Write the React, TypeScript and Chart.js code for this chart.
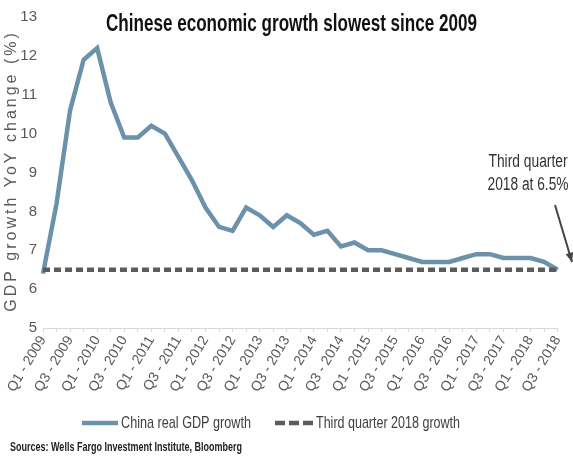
import React, { useEffect, useRef } from "react";
import { Chart, registerables } from "chart.js";

Chart.register(...registerables);

const quarters: string[] = [
  "Q1 - 2009", "Q2 - 2009", "Q3 - 2009", "Q4 - 2009",
  "Q1 - 2010", "Q2 - 2010", "Q3 - 2010", "Q4 - 2010",
  "Q1 - 2011", "Q2 - 2011", "Q3 - 2011", "Q4 - 2011",
  "Q1 - 2012", "Q2 - 2012", "Q3 - 2012", "Q4 - 2012",
  "Q1 - 2013", "Q2 - 2013", "Q3 - 2013", "Q4 - 2013",
  "Q1 - 2014", "Q2 - 2014", "Q3 - 2014", "Q4 - 2014",
  "Q1 - 2015", "Q2 - 2015", "Q3 - 2015", "Q4 - 2015",
  "Q1 - 2016", "Q2 - 2016", "Q3 - 2016", "Q4 - 2016",
  "Q1 - 2017", "Q2 - 2017", "Q3 - 2017", "Q4 - 2017",
  "Q1 - 2018", "Q2 - 2018", "Q3 - 2018",
];

const gdpGrowth: number[] = [
  6.4, 8.2, 10.6, 11.9,
  12.2, 10.8, 9.9, 9.9,
  10.2, 10.0, 9.4, 8.8,
  8.1, 7.6, 7.5, 8.1,
  7.9, 7.6, 7.9, 7.7,
  7.4, 7.5, 7.1, 7.2,
  7.0, 7.0, 6.9, 6.8,
  6.7, 6.7, 6.7, 6.8,
  6.9, 6.9, 6.8, 6.8,
  6.8, 6.7, 6.5,
];

const thirdQuarter2018Growth = 6.5;
const referenceLine = [
  { x: "Q1 - 2009", y: thirdQuarter2018Growth },
  { x: "Q3 - 2018", y: thirdQuarter2018Growth },
];

const yTicks: number[] = [5, 6, 7, 8, 9, 10, 11, 12, 13];

const titleText = "Chinese economic growth slowest since 2009";
const yTitleText = "GDP growth YoY change (%)";
const seriesNames = ["China real GDP growth", "Third quarter 2018 growth"];
const annotationLines = ["Third quarter", "2018 at 6.5%"];
const sourceText = "Sources: Wells Fargo Investment Institute, Bloomberg";

const BLUE = "#6b92aa";
const DASH = "#5c5c5c";
const SANS = "'Liberation Sans', Arial, sans-serif";

const decorPlugin = {
  id: "decor",
  afterDraw(chart: any) {
    const ctx = chart.ctx as CanvasRenderingContext2D;
    ctx.save();
    // Title
    ctx.fillStyle = "#111111";
    ctx.font = `bold 23px ${SANS}`;
    ctx.textAlign = "left";
    ctx.textBaseline = "middle";
    ctx.fillText(titleText, 106, 25, 371);

    // Y axis title
    ctx.save();
    ctx.translate(12, 171);
    ctx.rotate(-Math.PI / 2);
    ctx.fillStyle = "#595959";
    ctx.font = `16px ${SANS}`;
    (ctx as any).letterSpacing = "3px";
    ctx.textAlign = "center";
    ctx.textBaseline = "middle";
    ctx.fillText(yTitleText, 0, 0);
    ctx.restore();

    // Annotation
    ctx.fillStyle = "#333333";
    ctx.font = `18px ${SANS}`;
    ctx.textAlign = "center";
    ctx.textBaseline = "middle";
    ctx.fillText(annotationLines[0], 528, 162, 79);
    ctx.fillText(annotationLines[1], 528, 185, 81);

    // Arrow
    const x0 = 555, y0 = 205, x1 = 572, y1 = 262;
    ctx.strokeStyle = "#444444";
    ctx.lineWidth = 2;
    ctx.beginPath();
    ctx.moveTo(x0, y0);
    ctx.lineTo(x1, y1);
    ctx.stroke();
    const ang = Math.atan2(y1 - y0, x1 - x0);
    ctx.fillStyle = "#444444";
    ctx.beginPath();
    ctx.moveTo(x1, y1);
    ctx.lineTo(x1 - 10 * Math.cos(ang - 0.4), y1 - 10 * Math.sin(ang - 0.4));
    ctx.lineTo(x1 - 10 * Math.cos(ang + 0.4), y1 - 10 * Math.sin(ang + 0.4));
    ctx.closePath();
    ctx.fill();

    // Legend
    const ly = 423;
    ctx.lineWidth = 4.5;
    ctx.strokeStyle = BLUE;
    ctx.setLineDash([]);
    ctx.beginPath();
    ctx.moveTo(82, ly);
    ctx.lineTo(118, ly);
    ctx.stroke();
    ctx.strokeStyle = DASH;
    ctx.setLineDash([10, 4]);
    ctx.beginPath();
    ctx.moveTo(275, ly);
    ctx.lineTo(313, ly);
    ctx.stroke();
    ctx.setLineDash([]);
    ctx.fillStyle = "#404040";
    ctx.font = `17px ${SANS}`;
    ctx.textAlign = "left";
    ctx.textBaseline = "middle";
    ctx.fillText(seriesNames[0], 121, ly, 130);
    ctx.fillText(seriesNames[1], 316, ly, 144);

    // Sources
    ctx.fillStyle = "#222222";
    ctx.font = `bold 13px ${SANS}`;
    ctx.textBaseline = "middle";
    ctx.fillText(sourceText, 10, 447, 232);
    ctx.restore();
  },
};

export default function App() {
  const ref = useRef<HTMLCanvasElement | null>(null);
  useEffect(() => {
    if (!ref.current) return;
    const chart = new Chart(ref.current, {
      type: "line",
      data: {
        labels: quarters,
        datasets: [
          {
            label: seriesNames[0],
            data: gdpGrowth,
            borderColor: BLUE,
            backgroundColor: BLUE,
            borderWidth: 4.5,
            pointRadius: 0,
            tension: 0,
            order: 1,
          },
          {
            label: seriesNames[1],
            data: referenceLine as any,
            borderColor: DASH,
            backgroundColor: DASH,
            borderWidth: 4.5,
            borderDash: [7, 4],
            pointRadius: 0,
            order: 0,
          },
        ],
      },
      options: {
        responsive: false,
        animation: false,
        devicePixelRatio: 1,
        layout: { padding: { top: 17, right: 1, bottom: 0, left: 0 } },
        plugins: {
          legend: { display: false },
          title: { display: false },
          tooltip: { enabled: false },
        },
        scales: {
          x: {
            type: "category",
            offset: false,
            grid: {
              display: true,
              drawOnChartArea: false,
              drawTicks: true,
              tickLength: 4,
              color: "#d9d9d9",
            },
            border: { display: true, color: "#d9d9d9" },
            ticks: {
              autoSkip: false,
              maxRotation: 59,
              minRotation: 59,
              padding: 1,
              color: "#595959",
              font: { family: SANS, size: 14 },
              callback: (_v: any, i: number) => (i % 2 === 0 ? quarters[i] : ""),
            },
            afterFit: (scale: any) => {
              scale.height = 130;
            },
          },
          y: {
            min: yTicks[0],
            max: yTicks[yTicks.length - 1],
            grid: { display: false, drawTicks: false },
            border: { display: false },
            afterBuildTicks: (scale: any) => {
              scale.ticks = yTicks.map((v) => ({ value: v }));
            },
            ticks: {
              padding: 6,
              color: "#595959",
              font: { family: SANS, size: 15 },
            },
            afterFit: (scale: any) => {
              scale.width = 43;
            },
          },
        },
      },
      plugins: [decorPlugin],
    });
    return () => chart.destroy();
  }, []);
  return (
    <div style={{ position: "absolute", left: 0, top: 0, width: 573, height: 458, background: "#fff" }}>
      <canvas ref={ref} width={573} height={458} />
    </div>
  );
}
